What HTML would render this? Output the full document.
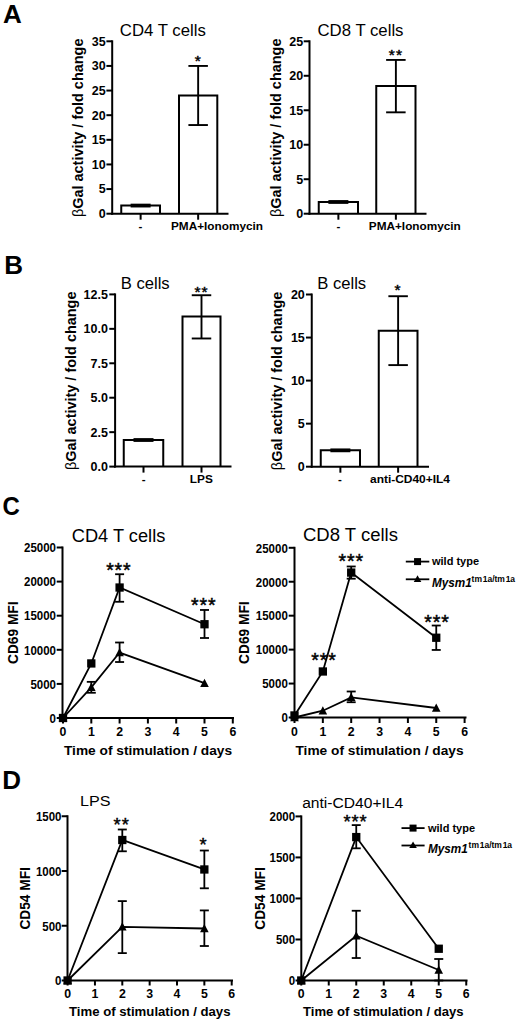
<!DOCTYPE html>
<html><head><meta charset="utf-8"><style>
html,body{margin:0;padding:0;background:#fff;}
svg{display:block;font-family:"Liberation Sans", sans-serif;}
</style></head><body>
<svg width="520" height="1025" viewBox="0 0 520 1025">
<rect width="520" height="1025" fill="#fff"/>
<g fill="#000" shape-rendering="auto">
<text x="3.1" y="22.5" font-size="26" font-weight="bold" text-anchor="start">A</text>
<text x="4.3" y="274" font-size="26" font-weight="bold" text-anchor="start">B</text>
<text x="2.5" y="514.5" font-size="26" font-weight="bold" text-anchor="start" textLength="17.3" lengthAdjust="spacingAndGlyphs">C</text>
<text x="2.2" y="788.8" font-size="26" font-weight="bold" text-anchor="start">D</text>
<line x1="112.2" y1="40.3" x2="112.2" y2="214.7" stroke="#000" stroke-width="2"/>
<line x1="106.4" y1="213.7" x2="112.2" y2="213.7" stroke="#000" stroke-width="2"/>
<text x="105.6" y="218.07" font-size="12.5" font-weight="bold" text-anchor="end">0</text>
<line x1="106.4" y1="189.07" x2="112.2" y2="189.07" stroke="#000" stroke-width="2"/>
<text x="105.6" y="193.45" font-size="12.5" font-weight="bold" text-anchor="end">5</text>
<line x1="106.4" y1="164.44" x2="112.2" y2="164.44" stroke="#000" stroke-width="2"/>
<text x="105.6" y="168.82" font-size="12.5" font-weight="bold" text-anchor="end">10</text>
<line x1="106.4" y1="139.81" x2="112.2" y2="139.81" stroke="#000" stroke-width="2"/>
<text x="105.6" y="144.19" font-size="12.5" font-weight="bold" text-anchor="end">15</text>
<line x1="106.4" y1="115.19" x2="112.2" y2="115.19" stroke="#000" stroke-width="2"/>
<text x="105.6" y="119.56" font-size="12.5" font-weight="bold" text-anchor="end">20</text>
<line x1="106.4" y1="90.56" x2="112.2" y2="90.56" stroke="#000" stroke-width="2"/>
<text x="105.6" y="94.93" font-size="12.5" font-weight="bold" text-anchor="end">25</text>
<line x1="106.4" y1="65.93" x2="112.2" y2="65.93" stroke="#000" stroke-width="2"/>
<text x="105.6" y="70.3" font-size="12.5" font-weight="bold" text-anchor="end">30</text>
<line x1="106.4" y1="41.3" x2="112.2" y2="41.3" stroke="#000" stroke-width="2"/>
<text x="105.6" y="45.68" font-size="12.5" font-weight="bold" text-anchor="end">35</text>
<line x1="111.2" y1="213.7" x2="228.5" y2="213.7" stroke="#000" stroke-width="2"/>
<line x1="140.62" y1="213.7" x2="140.62" y2="219.7" stroke="#000" stroke-width="2"/>
<line x1="198.15" y1="213.7" x2="198.15" y2="219.7" stroke="#000" stroke-width="2"/>
<path d="M121.25,213.7 V205.57 H160 V213.7" fill="none" stroke="#000" stroke-width="2" stroke-linejoin="miter"/>
<line x1="130.62" y1="205.57" x2="150.62" y2="205.57" stroke="#000" stroke-width="3.8"/>
<path d="M179,213.7 V95.48 H217.3 V213.7" fill="none" stroke="#000" stroke-width="2" stroke-linejoin="miter"/>
<line x1="198.15" y1="65.93" x2="198.15" y2="125.04" stroke="#000" stroke-width="1.9"/>
<line x1="188.4" y1="65.93" x2="207.9" y2="65.93" stroke="#000" stroke-width="1.9"/>
<line x1="188.4" y1="125.04" x2="207.9" y2="125.04" stroke="#000" stroke-width="1.9"/>
<text x="197.65" y="65.86" font-size="15.5" font-weight="normal" text-anchor="middle" stroke="#000" stroke-width="0.45">*</text>
<text x="119.8" y="36.2" font-size="16.5" font-weight="normal" text-anchor="start" textLength="86" lengthAdjust="spacingAndGlyphs">CD4 T cells</text>
<text x="83.3" y="127.8" font-size="14" font-weight="bold" text-anchor="middle" transform="rotate(-90 83.3 127.8)"  textLength="178.5" lengthAdjust="spacingAndGlyphs"><tspan font-weight="normal">β</tspan>Gal activity / fold change</text>
<text x="138.6" y="230.2" font-size="11.5" font-weight="bold" text-anchor="start">-</text>
<text x="171" y="230.2" font-size="11.5" font-weight="bold" text-anchor="start" textLength="92" lengthAdjust="spacingAndGlyphs">PMA+Ionomycin</text>
<line x1="309.5" y1="40.3" x2="309.5" y2="214.7" stroke="#000" stroke-width="2"/>
<line x1="303.7" y1="213.7" x2="309.5" y2="213.7" stroke="#000" stroke-width="2"/>
<text x="303.1" y="218.07" font-size="12.5" font-weight="bold" text-anchor="end">0</text>
<line x1="303.7" y1="179.22" x2="309.5" y2="179.22" stroke="#000" stroke-width="2"/>
<text x="303.1" y="183.59" font-size="12.5" font-weight="bold" text-anchor="end">5</text>
<line x1="303.7" y1="144.74" x2="309.5" y2="144.74" stroke="#000" stroke-width="2"/>
<text x="303.1" y="149.12" font-size="12.5" font-weight="bold" text-anchor="end">10</text>
<line x1="303.7" y1="110.26" x2="309.5" y2="110.26" stroke="#000" stroke-width="2"/>
<text x="303.1" y="114.64" font-size="12.5" font-weight="bold" text-anchor="end">15</text>
<line x1="303.7" y1="75.78" x2="309.5" y2="75.78" stroke="#000" stroke-width="2"/>
<text x="303.1" y="80.16" font-size="12.5" font-weight="bold" text-anchor="end">20</text>
<line x1="303.7" y1="41.3" x2="309.5" y2="41.3" stroke="#000" stroke-width="2"/>
<text x="303.1" y="45.68" font-size="12.5" font-weight="bold" text-anchor="end">25</text>
<line x1="308.5" y1="213.7" x2="426.5" y2="213.7" stroke="#000" stroke-width="2"/>
<line x1="338.38" y1="213.7" x2="338.38" y2="219.7" stroke="#000" stroke-width="2"/>
<line x1="395.88" y1="213.7" x2="395.88" y2="219.7" stroke="#000" stroke-width="2"/>
<path d="M318.75,213.7 V201.98 H358 V213.7" fill="none" stroke="#000" stroke-width="2" stroke-linejoin="miter"/>
<line x1="328.38" y1="201.98" x2="348.38" y2="201.98" stroke="#000" stroke-width="3.8"/>
<path d="M376.25,213.7 V86.12 H415.5 V213.7" fill="none" stroke="#000" stroke-width="2" stroke-linejoin="miter"/>
<line x1="395.88" y1="59.92" x2="395.88" y2="112.33" stroke="#000" stroke-width="1.9"/>
<line x1="386.12" y1="59.92" x2="405.62" y2="59.92" stroke="#000" stroke-width="1.9"/>
<line x1="386.12" y1="112.33" x2="405.62" y2="112.33" stroke="#000" stroke-width="1.9"/>
<text x="391.8" y="59.66" font-size="15.5" font-weight="normal" text-anchor="middle" stroke="#000" stroke-width="0.45">*</text>
<text x="398.95" y="59.66" font-size="15.5" font-weight="normal" text-anchor="middle" stroke="#000" stroke-width="0.45">*</text>
<text x="317.5" y="35.6" font-size="16.5" font-weight="normal" text-anchor="start" textLength="86" lengthAdjust="spacingAndGlyphs">CD8 T cells</text>
<text x="280.8" y="127.8" font-size="14" font-weight="bold" text-anchor="middle" transform="rotate(-90 280.8 127.8)"  textLength="178.5" lengthAdjust="spacingAndGlyphs"><tspan font-weight="normal">β</tspan>Gal activity / fold change</text>
<text x="336.5" y="230.2" font-size="11.5" font-weight="bold" text-anchor="start">-</text>
<text x="368.8" y="230.2" font-size="11.5" font-weight="bold" text-anchor="start" textLength="92" lengthAdjust="spacingAndGlyphs">PMA+Ionomycin</text>
<line x1="115.1" y1="293.4" x2="115.1" y2="467.6" stroke="#000" stroke-width="2"/>
<line x1="109.3" y1="466.6" x2="115.1" y2="466.6" stroke="#000" stroke-width="2"/>
<text x="107.9" y="470.98" font-size="12.5" font-weight="bold" text-anchor="end">0.0</text>
<line x1="109.3" y1="432.16" x2="115.1" y2="432.16" stroke="#000" stroke-width="2"/>
<text x="107.9" y="436.54" font-size="12.5" font-weight="bold" text-anchor="end">2.5</text>
<line x1="109.3" y1="397.72" x2="115.1" y2="397.72" stroke="#000" stroke-width="2"/>
<text x="107.9" y="402.1" font-size="12.5" font-weight="bold" text-anchor="end">5.0</text>
<line x1="109.3" y1="363.28" x2="115.1" y2="363.28" stroke="#000" stroke-width="2"/>
<text x="107.9" y="367.65" font-size="12.5" font-weight="bold" text-anchor="end">7.5</text>
<line x1="109.3" y1="328.84" x2="115.1" y2="328.84" stroke="#000" stroke-width="2"/>
<text x="107.9" y="333.21" font-size="12.5" font-weight="bold" text-anchor="end">10.0</text>
<line x1="109.3" y1="294.4" x2="115.1" y2="294.4" stroke="#000" stroke-width="2"/>
<text x="107.9" y="298.77" font-size="12.5" font-weight="bold" text-anchor="end">12.5</text>
<line x1="114.1" y1="466.6" x2="231.5" y2="466.6" stroke="#000" stroke-width="2"/>
<line x1="143.5" y1="466.6" x2="143.5" y2="472.6" stroke="#000" stroke-width="2"/>
<line x1="201.5" y1="466.6" x2="201.5" y2="472.6" stroke="#000" stroke-width="2"/>
<path d="M123.75,466.6 V440.01 H163.25 V466.6" fill="none" stroke="#000" stroke-width="2" stroke-linejoin="miter"/>
<line x1="133.5" y1="440.01" x2="153.5" y2="440.01" stroke="#000" stroke-width="3.8"/>
<path d="M182.5,466.6 V316.58 H220.5 V466.6" fill="none" stroke="#000" stroke-width="2" stroke-linejoin="miter"/>
<line x1="201.5" y1="295.23" x2="201.5" y2="338.48" stroke="#000" stroke-width="1.9"/>
<line x1="191.75" y1="295.23" x2="211.25" y2="295.23" stroke="#000" stroke-width="1.9"/>
<line x1="191.75" y1="338.48" x2="211.25" y2="338.48" stroke="#000" stroke-width="1.9"/>
<text x="197.43" y="296.86" font-size="15.5" font-weight="normal" text-anchor="middle" stroke="#000" stroke-width="0.45">*</text>
<text x="204.57" y="296.86" font-size="15.5" font-weight="normal" text-anchor="middle" stroke="#000" stroke-width="0.45">*</text>
<text x="120.7" y="289.2" font-size="16.5" font-weight="normal" text-anchor="start" textLength="49" lengthAdjust="spacingAndGlyphs">B cells</text>
<text x="76.5" y="380.8" font-size="14" font-weight="bold" text-anchor="middle" transform="rotate(-90 76.5 380.8)"  textLength="178.5" lengthAdjust="spacingAndGlyphs"><tspan font-weight="normal">β</tspan>Gal activity / fold change</text>
<text x="141.8" y="483.1" font-size="11.5" font-weight="bold" text-anchor="start">-</text>
<text x="189.8" y="483.1" font-size="11.5" font-weight="bold" text-anchor="start" textLength="23" lengthAdjust="spacingAndGlyphs">LPS</text>
<line x1="311.75" y1="293.5" x2="311.75" y2="467.7" stroke="#000" stroke-width="2"/>
<line x1="305.95" y1="466.7" x2="311.75" y2="466.7" stroke="#000" stroke-width="2"/>
<text x="304.8" y="471.07" font-size="12.5" font-weight="bold" text-anchor="end">0</text>
<line x1="305.95" y1="423.65" x2="311.75" y2="423.65" stroke="#000" stroke-width="2"/>
<text x="304.8" y="428.02" font-size="12.5" font-weight="bold" text-anchor="end">5</text>
<line x1="305.95" y1="380.6" x2="311.75" y2="380.6" stroke="#000" stroke-width="2"/>
<text x="304.8" y="384.98" font-size="12.5" font-weight="bold" text-anchor="end">10</text>
<line x1="305.95" y1="337.55" x2="311.75" y2="337.55" stroke="#000" stroke-width="2"/>
<text x="304.8" y="341.93" font-size="12.5" font-weight="bold" text-anchor="end">15</text>
<line x1="305.95" y1="294.5" x2="311.75" y2="294.5" stroke="#000" stroke-width="2"/>
<text x="304.8" y="298.88" font-size="12.5" font-weight="bold" text-anchor="end">20</text>
<line x1="310.75" y1="466.7" x2="429" y2="466.7" stroke="#000" stroke-width="2"/>
<line x1="340.38" y1="466.7" x2="340.38" y2="472.7" stroke="#000" stroke-width="2"/>
<line x1="398.12" y1="466.7" x2="398.12" y2="472.7" stroke="#000" stroke-width="2"/>
<path d="M320.75,466.7 V450.34 H360 V466.7" fill="none" stroke="#000" stroke-width="2" stroke-linejoin="miter"/>
<line x1="330.38" y1="450.34" x2="350.38" y2="450.34" stroke="#000" stroke-width="3.8"/>
<path d="M378.75,466.7 V330.66 H417.5 V466.7" fill="none" stroke="#000" stroke-width="2" stroke-linejoin="miter"/>
<line x1="398.12" y1="296.22" x2="398.12" y2="365.1" stroke="#000" stroke-width="1.9"/>
<line x1="388.38" y1="296.22" x2="407.88" y2="296.22" stroke="#000" stroke-width="1.9"/>
<line x1="388.38" y1="365.1" x2="407.88" y2="365.1" stroke="#000" stroke-width="1.9"/>
<text x="397.62" y="295.26" font-size="15.5" font-weight="normal" text-anchor="middle" stroke="#000" stroke-width="0.45">*</text>
<text x="317.2" y="289.2" font-size="16.5" font-weight="normal" text-anchor="start" textLength="49" lengthAdjust="spacingAndGlyphs">B cells</text>
<text x="282.5" y="380.90000000000003" font-size="14" font-weight="bold" text-anchor="middle" transform="rotate(-90 282.5 380.90000000000003)"  textLength="178.5" lengthAdjust="spacingAndGlyphs"><tspan font-weight="normal">β</tspan>Gal activity / fold change</text>
<text x="338" y="483.2" font-size="11.5" font-weight="bold" text-anchor="start">-</text>
<text x="370" y="483.2" font-size="11.5" font-weight="bold" text-anchor="start" textLength="80" lengthAdjust="spacingAndGlyphs">anti-CD40+IL4</text>
<line x1="62.5" y1="546.5" x2="62.5" y2="719" stroke="#000" stroke-width="2"/>
<line x1="56.7" y1="718" x2="62.5" y2="718" stroke="#000" stroke-width="2"/>
<text x="56" y="722.76" font-size="12.2" font-weight="bold" text-anchor="end" textLength="6.39" lengthAdjust="spacingAndGlyphs">0</text>
<line x1="56.7" y1="683.9" x2="62.5" y2="683.9" stroke="#000" stroke-width="2"/>
<text x="56" y="688.66" font-size="12.2" font-weight="bold" text-anchor="end" textLength="25.58" lengthAdjust="spacingAndGlyphs">5000</text>
<line x1="56.7" y1="649.8" x2="62.5" y2="649.8" stroke="#000" stroke-width="2"/>
<text x="56" y="654.56" font-size="12.2" font-weight="bold" text-anchor="end" textLength="31.97" lengthAdjust="spacingAndGlyphs">10000</text>
<line x1="56.7" y1="615.7" x2="62.5" y2="615.7" stroke="#000" stroke-width="2"/>
<text x="56" y="620.46" font-size="12.2" font-weight="bold" text-anchor="end" textLength="31.97" lengthAdjust="spacingAndGlyphs">15000</text>
<line x1="56.7" y1="581.6" x2="62.5" y2="581.6" stroke="#000" stroke-width="2"/>
<text x="56" y="586.36" font-size="12.2" font-weight="bold" text-anchor="end" textLength="31.97" lengthAdjust="spacingAndGlyphs">20000</text>
<line x1="56.7" y1="547.5" x2="62.5" y2="547.5" stroke="#000" stroke-width="2"/>
<text x="56" y="552.26" font-size="12.2" font-weight="bold" text-anchor="end" textLength="31.97" lengthAdjust="spacingAndGlyphs">25000</text>
<line x1="61.5" y1="718" x2="234" y2="718" stroke="#000" stroke-width="2"/>
<line x1="63" y1="718" x2="63" y2="723.5" stroke="#000" stroke-width="2"/>
<text x="63.0" y="736.1" font-size="12.3" font-weight="bold" text-anchor="middle">0</text>
<line x1="91.3" y1="718" x2="91.3" y2="723.5" stroke="#000" stroke-width="2"/>
<text x="91.3" y="736.1" font-size="12.3" font-weight="bold" text-anchor="middle">1</text>
<line x1="119.6" y1="718" x2="119.6" y2="723.5" stroke="#000" stroke-width="2"/>
<text x="119.6" y="736.1" font-size="12.3" font-weight="bold" text-anchor="middle">2</text>
<line x1="147.9" y1="718" x2="147.9" y2="723.5" stroke="#000" stroke-width="2"/>
<text x="147.9" y="736.1" font-size="12.3" font-weight="bold" text-anchor="middle">3</text>
<line x1="176.2" y1="718" x2="176.2" y2="723.5" stroke="#000" stroke-width="2"/>
<text x="176.2" y="736.1" font-size="12.3" font-weight="bold" text-anchor="middle">4</text>
<line x1="204.5" y1="718" x2="204.5" y2="723.5" stroke="#000" stroke-width="2"/>
<text x="204.5" y="736.1" font-size="12.3" font-weight="bold" text-anchor="middle">5</text>
<line x1="232.8" y1="718" x2="232.8" y2="723.5" stroke="#000" stroke-width="2"/>
<text x="232.8" y="736.1" font-size="12.3" font-weight="bold" text-anchor="middle">6</text>
<polyline points="63.00,718.00 91.30,663.44 119.60,587.53 204.50,624.23" fill="none" stroke="#000" stroke-width="1.8" stroke-linejoin="miter"/>
<rect x="58.85" y="713.85" width="8.3" height="8.3" fill="#000"/>
<rect x="87.15" y="659.29" width="8.3" height="8.3" fill="#000"/>
<line x1="119.6" y1="574.23" x2="119.6" y2="601.79" stroke="#000" stroke-width="1.8"/>
<line x1="115.1" y1="574.23" x2="124.1" y2="574.23" stroke="#000" stroke-width="1.8"/>
<line x1="115.1" y1="601.79" x2="124.1" y2="601.79" stroke="#000" stroke-width="1.8"/>
<rect x="115.45" y="583.38" width="8.3" height="8.3" fill="#000"/>
<line x1="204.5" y1="609.97" x2="204.5" y2="638" stroke="#000" stroke-width="1.8"/>
<line x1="200" y1="609.97" x2="209" y2="609.97" stroke="#000" stroke-width="1.8"/>
<line x1="200" y1="638" x2="209" y2="638" stroke="#000" stroke-width="1.8"/>
<rect x="200.35" y="620.08" width="8.3" height="8.3" fill="#000"/>
<polyline points="63.00,718.00 91.30,687.31 119.60,652.53 204.50,683.22" fill="none" stroke="#000" stroke-width="1.8" stroke-linejoin="miter"/>
<path d="M63.00,713.50 L67.30,721.70 L58.70,721.70 Z" fill="#000"/>
<line x1="91.3" y1="681.85" x2="91.3" y2="692.77" stroke="#000" stroke-width="1.8"/>
<line x1="86.8" y1="681.85" x2="95.8" y2="681.85" stroke="#000" stroke-width="1.8"/>
<line x1="86.8" y1="692.77" x2="95.8" y2="692.77" stroke="#000" stroke-width="1.8"/>
<path d="M91.30,682.81 L95.60,691.01 L87.00,691.01 Z" fill="#000"/>
<line x1="119.6" y1="642.5" x2="119.6" y2="662.01" stroke="#000" stroke-width="1.8"/>
<line x1="115.1" y1="642.5" x2="124.1" y2="642.5" stroke="#000" stroke-width="1.8"/>
<line x1="115.1" y1="662.01" x2="124.1" y2="662.01" stroke="#000" stroke-width="1.8"/>
<path d="M119.60,648.03 L123.90,656.23 L115.30,656.23 Z" fill="#000"/>
<path d="M204.50,678.72 L208.80,686.92 L200.20,686.92 Z" fill="#000"/>
<text x="109.95" y="576.62" font-size="19.5" font-weight="normal" text-anchor="middle" stroke="#000" stroke-width="0.45">*</text>
<text x="118.4" y="576.62" font-size="19.5" font-weight="normal" text-anchor="middle" stroke="#000" stroke-width="0.45">*</text>
<text x="126.85" y="576.62" font-size="19.5" font-weight="normal" text-anchor="middle" stroke="#000" stroke-width="0.45">*</text>
<text x="194.85" y="612.22" font-size="19.5" font-weight="normal" text-anchor="middle" stroke="#000" stroke-width="0.45">*</text>
<text x="203.3" y="612.22" font-size="19.5" font-weight="normal" text-anchor="middle" stroke="#000" stroke-width="0.45">*</text>
<text x="211.75" y="612.22" font-size="19.5" font-weight="normal" text-anchor="middle" stroke="#000" stroke-width="0.45">*</text>
<text x="71.8" y="542.2" font-size="17.5" font-weight="normal" text-anchor="start" textLength="93.5" lengthAdjust="spacingAndGlyphs">CD4 T cells</text>
<text x="18.2" y="632.75" font-size="14" font-weight="bold" text-anchor="middle" textLength="62.5" lengthAdjust="spacingAndGlyphs" transform="rotate(-90 18.2 632.75)">CD69 MFI</text>
<text x="64" y="755" font-size="13.6" font-weight="bold" text-anchor="start" textLength="168" lengthAdjust="spacingAndGlyphs">Time of stimulation / days</text>
<line x1="294.5" y1="546.8" x2="294.5" y2="718.5" stroke="#000" stroke-width="2"/>
<line x1="288.7" y1="717.5" x2="294.5" y2="717.5" stroke="#000" stroke-width="2"/>
<text x="287.8" y="722.26" font-size="12.2" font-weight="bold" text-anchor="end" textLength="6.39" lengthAdjust="spacingAndGlyphs">0</text>
<line x1="288.7" y1="683.56" x2="294.5" y2="683.56" stroke="#000" stroke-width="2"/>
<text x="287.8" y="688.32" font-size="12.2" font-weight="bold" text-anchor="end" textLength="25.58" lengthAdjust="spacingAndGlyphs">5000</text>
<line x1="288.7" y1="649.62" x2="294.5" y2="649.62" stroke="#000" stroke-width="2"/>
<text x="287.8" y="654.38" font-size="12.2" font-weight="bold" text-anchor="end" textLength="31.97" lengthAdjust="spacingAndGlyphs">10000</text>
<line x1="288.7" y1="615.68" x2="294.5" y2="615.68" stroke="#000" stroke-width="2"/>
<text x="287.8" y="620.44" font-size="12.2" font-weight="bold" text-anchor="end" textLength="31.97" lengthAdjust="spacingAndGlyphs">15000</text>
<line x1="288.7" y1="581.74" x2="294.5" y2="581.74" stroke="#000" stroke-width="2"/>
<text x="287.8" y="586.5" font-size="12.2" font-weight="bold" text-anchor="end" textLength="31.97" lengthAdjust="spacingAndGlyphs">20000</text>
<line x1="288.7" y1="547.8" x2="294.5" y2="547.8" stroke="#000" stroke-width="2"/>
<text x="287.8" y="552.56" font-size="12.2" font-weight="bold" text-anchor="end" textLength="31.97" lengthAdjust="spacingAndGlyphs">25000</text>
<line x1="293.5" y1="717.5" x2="466.5" y2="717.5" stroke="#000" stroke-width="2"/>
<line x1="294.5" y1="717.5" x2="294.5" y2="723" stroke="#000" stroke-width="2"/>
<text x="294.5" y="735.6" font-size="12.3" font-weight="bold" text-anchor="middle">0</text>
<line x1="322.85" y1="717.5" x2="322.85" y2="723" stroke="#000" stroke-width="2"/>
<text x="322.85" y="735.6" font-size="12.3" font-weight="bold" text-anchor="middle">1</text>
<line x1="351.2" y1="717.5" x2="351.2" y2="723" stroke="#000" stroke-width="2"/>
<text x="351.2" y="735.6" font-size="12.3" font-weight="bold" text-anchor="middle">2</text>
<line x1="379.55" y1="717.5" x2="379.55" y2="723" stroke="#000" stroke-width="2"/>
<text x="379.55" y="735.6" font-size="12.3" font-weight="bold" text-anchor="middle">3</text>
<line x1="407.9" y1="717.5" x2="407.9" y2="723" stroke="#000" stroke-width="2"/>
<text x="407.9" y="735.6" font-size="12.3" font-weight="bold" text-anchor="middle">4</text>
<line x1="436.25" y1="717.5" x2="436.25" y2="723" stroke="#000" stroke-width="2"/>
<text x="436.25" y="735.6" font-size="12.3" font-weight="bold" text-anchor="middle">5</text>
<line x1="464.6" y1="717.5" x2="464.6" y2="723" stroke="#000" stroke-width="2"/>
<text x="464.6" y="735.6" font-size="12.3" font-weight="bold" text-anchor="middle">6</text>
<polyline points="294.50,715.46 322.85,671.48 351.20,572.58 436.25,637.74" fill="none" stroke="#000" stroke-width="1.8" stroke-linejoin="miter"/>
<rect x="290.35" y="711.31" width="8.3" height="8.3" fill="#000"/>
<rect x="318.70" y="667.33" width="8.3" height="8.3" fill="#000"/>
<line x1="351.2" y1="566.47" x2="351.2" y2="578.69" stroke="#000" stroke-width="1.8"/>
<line x1="346.7" y1="566.47" x2="355.7" y2="566.47" stroke="#000" stroke-width="1.8"/>
<line x1="346.7" y1="578.69" x2="355.7" y2="578.69" stroke="#000" stroke-width="1.8"/>
<rect x="347.05" y="568.43" width="8.3" height="8.3" fill="#000"/>
<line x1="436.25" y1="625.52" x2="436.25" y2="649.96" stroke="#000" stroke-width="1.8"/>
<line x1="431.75" y1="625.52" x2="440.75" y2="625.52" stroke="#000" stroke-width="1.8"/>
<line x1="431.75" y1="649.96" x2="440.75" y2="649.96" stroke="#000" stroke-width="1.8"/>
<rect x="432.10" y="633.59" width="8.3" height="8.3" fill="#000"/>
<polyline points="294.50,717.50 322.85,710.71 351.20,697.34 436.25,708.00" fill="none" stroke="#000" stroke-width="1.8" stroke-linejoin="miter"/>
<path d="M294.50,713.00 L298.80,721.20 L290.20,721.20 Z" fill="#000"/>
<path d="M322.85,706.21 L327.15,714.41 L318.55,714.41 Z" fill="#000"/>
<line x1="351.2" y1="691.5" x2="351.2" y2="702.23" stroke="#000" stroke-width="1.8"/>
<line x1="346.7" y1="691.5" x2="355.7" y2="691.5" stroke="#000" stroke-width="1.8"/>
<line x1="346.7" y1="702.23" x2="355.7" y2="702.23" stroke="#000" stroke-width="1.8"/>
<path d="M351.20,692.84 L355.50,701.04 L346.90,701.04 Z" fill="#000"/>
<path d="M436.25,703.50 L440.55,711.70 L431.95,711.70 Z" fill="#000"/>
<text x="315.05" y="666.62" font-size="19.5" font-weight="normal" text-anchor="middle" stroke="#000" stroke-width="0.45">*</text>
<text x="323.5" y="666.62" font-size="19.5" font-weight="normal" text-anchor="middle" stroke="#000" stroke-width="0.45">*</text>
<text x="331.95" y="666.62" font-size="19.5" font-weight="normal" text-anchor="middle" stroke="#000" stroke-width="0.45">*</text>
<text x="342.3" y="568.42" font-size="19.5" font-weight="normal" text-anchor="middle" stroke="#000" stroke-width="0.45">*</text>
<text x="350.75" y="568.42" font-size="19.5" font-weight="normal" text-anchor="middle" stroke="#000" stroke-width="0.45">*</text>
<text x="359.2" y="568.42" font-size="19.5" font-weight="normal" text-anchor="middle" stroke="#000" stroke-width="0.45">*</text>
<text x="428.05" y="629.22" font-size="19.5" font-weight="normal" text-anchor="middle" stroke="#000" stroke-width="0.45">*</text>
<text x="436.5" y="629.22" font-size="19.5" font-weight="normal" text-anchor="middle" stroke="#000" stroke-width="0.45">*</text>
<text x="444.95" y="629.22" font-size="19.5" font-weight="normal" text-anchor="middle" stroke="#000" stroke-width="0.45">*</text>
<text x="303" y="541.3" font-size="17.5" font-weight="normal" text-anchor="start" textLength="95" lengthAdjust="spacingAndGlyphs">CD8 T cells</text>
<text x="249" y="632.65" font-size="14" font-weight="bold" text-anchor="middle" textLength="62.5" lengthAdjust="spacingAndGlyphs" transform="rotate(-90 249 632.65)">CD69 MFI</text>
<text x="295.5" y="755" font-size="13.6" font-weight="bold" text-anchor="start" textLength="168" lengthAdjust="spacingAndGlyphs">Time of stimulation / days</text>
<line x1="405.8" y1="561.6" x2="429.3" y2="561.6" stroke="#000" stroke-width="1.8"/>
<rect x="414.05" y="558.10" width="7" height="7" fill="#000"/>
<line x1="405.8" y1="579.3" x2="429.3" y2="579.3" stroke="#000" stroke-width="1.8"/>
<path d="M417.55,575.30 L421.35,581.90 L413.75,581.90 Z" fill="#000"/>
<text x="432.0" y="565.4" font-size="11" font-weight="bold" text-anchor="start">wild type</text>
<text x="432.0" y="586.6" font-size="12" font-weight="bold" text-anchor="start" font-style="italic" textLength="39.8" lengthAdjust="spacingAndGlyphs">Mysm1</text>
<text x="471.6" y="581.5" font-size="8.5" font-weight="bold" text-anchor="start" textLength="43.5" lengthAdjust="spacingAndGlyphs">tm&#8202;1a/tm&#8202;1a</text>
<line x1="67.5" y1="815.25" x2="67.5" y2="981.5" stroke="#000" stroke-width="2"/>
<line x1="61.7" y1="980.5" x2="67.5" y2="980.5" stroke="#000" stroke-width="2"/>
<text x="61.5" y="985.26" font-size="12.2" font-weight="bold" text-anchor="end" textLength="6.39" lengthAdjust="spacingAndGlyphs">0</text>
<line x1="61.7" y1="925.75" x2="67.5" y2="925.75" stroke="#000" stroke-width="2"/>
<text x="61.5" y="930.51" font-size="12.2" font-weight="bold" text-anchor="end" textLength="19.18" lengthAdjust="spacingAndGlyphs">500</text>
<line x1="61.7" y1="871" x2="67.5" y2="871" stroke="#000" stroke-width="2"/>
<text x="61.5" y="875.76" font-size="12.2" font-weight="bold" text-anchor="end" textLength="25.58" lengthAdjust="spacingAndGlyphs">1000</text>
<line x1="61.7" y1="816.25" x2="67.5" y2="816.25" stroke="#000" stroke-width="2"/>
<text x="61.5" y="821.01" font-size="12.2" font-weight="bold" text-anchor="end" textLength="25.58" lengthAdjust="spacingAndGlyphs">1500</text>
<line x1="66.5" y1="980.5" x2="233" y2="980.5" stroke="#000" stroke-width="2"/>
<line x1="67.6" y1="980.5" x2="67.6" y2="985.5" stroke="#000" stroke-width="2"/>
<text x="67.6" y="998.1" font-size="12.3" font-weight="bold" text-anchor="middle">0</text>
<line x1="94.95" y1="980.5" x2="94.95" y2="985.5" stroke="#000" stroke-width="2"/>
<text x="94.94999999999999" y="998.1" font-size="12.3" font-weight="bold" text-anchor="middle">1</text>
<line x1="122.3" y1="980.5" x2="122.3" y2="985.5" stroke="#000" stroke-width="2"/>
<text x="122.3" y="998.1" font-size="12.3" font-weight="bold" text-anchor="middle">2</text>
<line x1="149.65" y1="980.5" x2="149.65" y2="985.5" stroke="#000" stroke-width="2"/>
<text x="149.65" y="998.1" font-size="12.3" font-weight="bold" text-anchor="middle">3</text>
<line x1="177" y1="980.5" x2="177" y2="985.5" stroke="#000" stroke-width="2"/>
<text x="177.0" y="998.1" font-size="12.3" font-weight="bold" text-anchor="middle">4</text>
<line x1="204.35" y1="980.5" x2="204.35" y2="985.5" stroke="#000" stroke-width="2"/>
<text x="204.35" y="998.1" font-size="12.3" font-weight="bold" text-anchor="middle">5</text>
<line x1="231.7" y1="980.5" x2="231.7" y2="985.5" stroke="#000" stroke-width="2"/>
<text x="231.70000000000002" y="998.1" font-size="12.3" font-weight="bold" text-anchor="middle">6</text>
<polyline points="67.60,980.50 122.30,840.01 204.35,869.47" fill="none" stroke="#000" stroke-width="1.8" stroke-linejoin="miter"/>
<rect x="63.45" y="976.35" width="8.3" height="8.3" fill="#000"/>
<line x1="122.3" y1="829.5" x2="122.3" y2="851.29" stroke="#000" stroke-width="1.8"/>
<line x1="117.8" y1="829.5" x2="126.8" y2="829.5" stroke="#000" stroke-width="1.8"/>
<line x1="117.8" y1="851.29" x2="126.8" y2="851.29" stroke="#000" stroke-width="1.8"/>
<rect x="118.15" y="835.86" width="8.3" height="8.3" fill="#000"/>
<line x1="204.35" y1="850.52" x2="204.35" y2="888.3" stroke="#000" stroke-width="1.8"/>
<line x1="199.85" y1="850.52" x2="208.85" y2="850.52" stroke="#000" stroke-width="1.8"/>
<line x1="199.85" y1="888.3" x2="208.85" y2="888.3" stroke="#000" stroke-width="1.8"/>
<rect x="200.20" y="865.32" width="8.3" height="8.3" fill="#000"/>
<polyline points="67.60,980.50 122.30,926.85 204.35,928.49" fill="none" stroke="#000" stroke-width="1.8" stroke-linejoin="miter"/>
<path d="M67.60,976.00 L71.90,984.20 L63.30,984.20 Z" fill="#000"/>
<line x1="122.3" y1="901.11" x2="122.3" y2="953.12" stroke="#000" stroke-width="1.8"/>
<line x1="117.8" y1="901.11" x2="126.8" y2="901.11" stroke="#000" stroke-width="1.8"/>
<line x1="117.8" y1="953.12" x2="126.8" y2="953.12" stroke="#000" stroke-width="1.8"/>
<path d="M122.30,922.35 L126.60,930.55 L118.00,930.55 Z" fill="#000"/>
<line x1="204.35" y1="910.42" x2="204.35" y2="946.01" stroke="#000" stroke-width="1.8"/>
<line x1="199.85" y1="910.42" x2="208.85" y2="910.42" stroke="#000" stroke-width="1.8"/>
<line x1="199.85" y1="946.01" x2="208.85" y2="946.01" stroke="#000" stroke-width="1.8"/>
<path d="M204.35,923.99 L208.65,932.19 L200.05,932.19 Z" fill="#000"/>
<text x="116.95" y="831.39" font-size="18.3" font-weight="normal" text-anchor="middle" stroke="#000" stroke-width="0.45">*</text>
<text x="125.25" y="831.39" font-size="18.3" font-weight="normal" text-anchor="middle" stroke="#000" stroke-width="0.45">*</text>
<text x="203.15" y="851.39" font-size="18.3" font-weight="normal" text-anchor="middle" stroke="#000" stroke-width="0.45">*</text>
<text x="80" y="806.3" font-size="15.4" font-weight="normal" text-anchor="start" textLength="30.5" lengthAdjust="spacingAndGlyphs">LPS</text>
<text x="30.2" y="898.375" font-size="14" font-weight="bold" text-anchor="middle" textLength="62.5" lengthAdjust="spacingAndGlyphs" transform="rotate(-90 30.2 898.375)">CD54 MFI</text>
<text x="69" y="1016" font-size="13.6" font-weight="bold" text-anchor="start" textLength="161.5" lengthAdjust="spacingAndGlyphs">Time of stimulation / days</text>
<line x1="301.3" y1="815.4" x2="301.3" y2="981.5" stroke="#000" stroke-width="2"/>
<line x1="295.5" y1="980.5" x2="301.3" y2="980.5" stroke="#000" stroke-width="2"/>
<text x="295.1" y="985.26" font-size="12.2" font-weight="bold" text-anchor="end" textLength="6.39" lengthAdjust="spacingAndGlyphs">0</text>
<line x1="295.5" y1="939.48" x2="301.3" y2="939.48" stroke="#000" stroke-width="2"/>
<text x="295.1" y="944.23" font-size="12.2" font-weight="bold" text-anchor="end" textLength="19.18" lengthAdjust="spacingAndGlyphs">500</text>
<line x1="295.5" y1="898.45" x2="301.3" y2="898.45" stroke="#000" stroke-width="2"/>
<text x="295.1" y="903.21" font-size="12.2" font-weight="bold" text-anchor="end" textLength="25.58" lengthAdjust="spacingAndGlyphs">1000</text>
<line x1="295.5" y1="857.42" x2="301.3" y2="857.42" stroke="#000" stroke-width="2"/>
<text x="295.1" y="862.18" font-size="12.2" font-weight="bold" text-anchor="end" textLength="25.58" lengthAdjust="spacingAndGlyphs">1500</text>
<line x1="295.5" y1="816.4" x2="301.3" y2="816.4" stroke="#000" stroke-width="2"/>
<text x="295.1" y="821.16" font-size="12.2" font-weight="bold" text-anchor="end" textLength="25.58" lengthAdjust="spacingAndGlyphs">2000</text>
<line x1="300.3" y1="980.5" x2="467.5" y2="980.5" stroke="#000" stroke-width="2"/>
<line x1="301.25" y1="980.5" x2="301.25" y2="985.5" stroke="#000" stroke-width="2"/>
<text x="301.25" y="998.1" font-size="12.3" font-weight="bold" text-anchor="middle">0</text>
<line x1="328.75" y1="980.5" x2="328.75" y2="985.5" stroke="#000" stroke-width="2"/>
<text x="328.75" y="998.1" font-size="12.3" font-weight="bold" text-anchor="middle">1</text>
<line x1="356.25" y1="980.5" x2="356.25" y2="985.5" stroke="#000" stroke-width="2"/>
<text x="356.25" y="998.1" font-size="12.3" font-weight="bold" text-anchor="middle">2</text>
<line x1="383.75" y1="980.5" x2="383.75" y2="985.5" stroke="#000" stroke-width="2"/>
<text x="383.75" y="998.1" font-size="12.3" font-weight="bold" text-anchor="middle">3</text>
<line x1="411.25" y1="980.5" x2="411.25" y2="985.5" stroke="#000" stroke-width="2"/>
<text x="411.25" y="998.1" font-size="12.3" font-weight="bold" text-anchor="middle">4</text>
<line x1="438.75" y1="980.5" x2="438.75" y2="985.5" stroke="#000" stroke-width="2"/>
<text x="438.75" y="998.1" font-size="12.3" font-weight="bold" text-anchor="middle">5</text>
<line x1="466.25" y1="980.5" x2="466.25" y2="985.5" stroke="#000" stroke-width="2"/>
<text x="466.25" y="998.1" font-size="12.3" font-weight="bold" text-anchor="middle">6</text>
<polyline points="301.25,980.50 356.25,837.08 438.75,948.75" fill="none" stroke="#000" stroke-width="1.8" stroke-linejoin="miter"/>
<rect x="297.10" y="976.35" width="8.3" height="8.3" fill="#000"/>
<line x1="356.25" y1="825.1" x2="356.25" y2="848.32" stroke="#000" stroke-width="1.8"/>
<line x1="351.75" y1="825.1" x2="360.75" y2="825.1" stroke="#000" stroke-width="1.8"/>
<line x1="351.75" y1="848.32" x2="360.75" y2="848.32" stroke="#000" stroke-width="1.8"/>
<rect x="352.10" y="832.93" width="8.3" height="8.3" fill="#000"/>
<rect x="434.60" y="944.60" width="8.3" height="8.3" fill="#000"/>
<polyline points="301.25,980.50 356.25,935.78 438.75,970.00" fill="none" stroke="#000" stroke-width="1.8" stroke-linejoin="miter"/>
<path d="M301.25,976.00 L305.55,984.20 L296.95,984.20 Z" fill="#000"/>
<line x1="356.25" y1="910.76" x2="356.25" y2="958.02" stroke="#000" stroke-width="1.8"/>
<line x1="351.75" y1="910.76" x2="360.75" y2="910.76" stroke="#000" stroke-width="1.8"/>
<line x1="351.75" y1="958.02" x2="360.75" y2="958.02" stroke="#000" stroke-width="1.8"/>
<path d="M356.25,931.28 L360.55,939.48 L351.95,939.48 Z" fill="#000"/>
<line x1="438.75" y1="959" x2="438.75" y2="980.5" stroke="#000" stroke-width="1.8"/>
<line x1="434.25" y1="959" x2="443.25" y2="959" stroke="#000" stroke-width="1.8"/>
<line x1="434.25" y1="980.5" x2="443.25" y2="980.5" stroke="#000" stroke-width="1.8"/>
<path d="M438.75,965.50 L443.05,973.70 L434.45,973.70 Z" fill="#000"/>
<text x="346.95" y="827.59" font-size="18.3" font-weight="normal" text-anchor="middle" stroke="#000" stroke-width="0.45">*</text>
<text x="355.05" y="827.59" font-size="18.3" font-weight="normal" text-anchor="middle" stroke="#000" stroke-width="0.45">*</text>
<text x="363.15" y="827.59" font-size="18.3" font-weight="normal" text-anchor="middle" stroke="#000" stroke-width="0.45">*</text>
<text x="302.2" y="807.5" font-size="15.4" font-weight="normal" text-anchor="start" textLength="101" lengthAdjust="spacingAndGlyphs">anti-CD40+IL4</text>
<text x="265.3" y="898.45" font-size="14" font-weight="bold" text-anchor="middle" textLength="62.5" lengthAdjust="spacingAndGlyphs" transform="rotate(-90 265.3 898.45)">CD54 MFI</text>
<text x="303" y="1016" font-size="13.6" font-weight="bold" text-anchor="start" textLength="160.5" lengthAdjust="spacingAndGlyphs">Time of stimulation / days</text>
<line x1="401.5" y1="828.1" x2="424.6" y2="828.1" stroke="#000" stroke-width="1.8"/>
<rect x="409.55" y="824.60" width="7" height="7" fill="#000"/>
<line x1="401.5" y1="845.5" x2="424.6" y2="845.5" stroke="#000" stroke-width="1.8"/>
<path d="M413.05,841.50 L416.85,848.10 L409.25,848.10 Z" fill="#000"/>
<text x="428.0" y="831.9" font-size="11" font-weight="bold" text-anchor="start">wild type</text>
<text x="428.0" y="852.8" font-size="12" font-weight="bold" text-anchor="start" font-style="italic" textLength="39.8" lengthAdjust="spacingAndGlyphs">Mysm1</text>
<text x="468.6" y="847.7" font-size="8.5" font-weight="bold" text-anchor="start" textLength="43.5" lengthAdjust="spacingAndGlyphs">tm&#8202;1a/tm&#8202;1a</text>
</g>
</svg>
</body></html>
